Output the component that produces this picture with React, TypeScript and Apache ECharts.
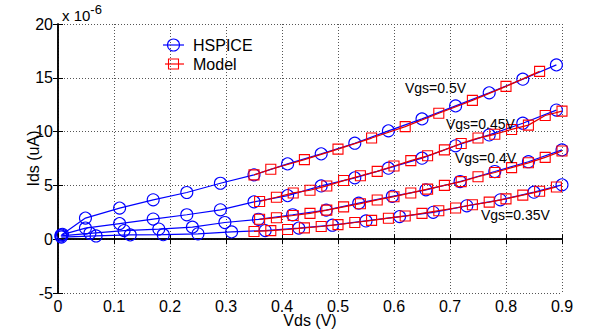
import React, { useEffect, useRef } from "react";
import * as echarts from "echarts";

// HSPICE (blue circles)
const hspice050X = [0.008, 0.049, 0.11, 0.17, 0.23, 0.29, 0.35, 0.41, 0.47, 0.53, 0.59, 0.65, 0.71, 0.77, 0.83, 0.89];
const hspice050Y = [0.45, 1.96, 2.89, 3.66, 4.34, 5.2, 5.98, 7.0, 7.93, 8.92, 10.07, 11.18, 12.39, 13.6, 14.87, 16.2];
const hspice045X = [0.006, 0.049, 0.11, 0.17, 0.23, 0.29, 0.35, 0.41, 0.47, 0.53, 0.59, 0.65, 0.71, 0.77, 0.83, 0.89];
const hspice045Y = [0.4, 1.03, 1.45, 1.87, 2.27, 2.73, 3.47, 4.05, 4.95, 5.7, 6.6, 7.53, 8.68, 9.69, 10.78, 12.0];
const hspice040X = [0.005, 0.057, 0.118, 0.18, 0.24, 0.298, 0.358, 0.419, 0.479, 0.537, 0.597, 0.657, 0.718, 0.78, 0.84, 0.9];
const hspice040Y = [0.3, 0.55, 0.8, 0.94, 1.12, 1.55, 1.85, 2.27, 2.7, 3.35, 3.98, 4.59, 5.36, 6.29, 7.2, 8.3];
const hspice035X = [0.006, 0.068, 0.129, 0.188, 0.25, 0.31, 0.37, 0.43, 0.49, 0.55, 0.61, 0.67, 0.73, 0.79, 0.85, 0.9];
const hspice035Y = [0.2, 0.3, 0.4, 0.42, 0.5, 0.68, 0.8, 1.03, 1.3, 1.7, 2.1, 2.5, 3.1, 3.66, 4.37, 5.05];

// Model (red squares)
const model050X = [0.35, 0.38, 0.44, 0.5, 0.56, 0.62, 0.68, 0.74, 0.8, 0.86];
const model050Y = [5.98, 6.5, 7.4, 8.37, 9.4, 10.46, 11.7, 12.9, 14.2, 15.6];
const model045X = [0.36, 0.39, 0.42, 0.45, 0.48, 0.51, 0.54, 0.57, 0.6, 0.63, 0.66, 0.69, 0.72, 0.75, 0.78, 0.81, 0.84, 0.87, 0.9];
const model045Y = [3.5, 3.9, 4.3, 4.55, 4.95, 5.45, 5.9, 6.3, 6.8, 7.3, 7.75, 8.3, 8.9, 9.4, 9.75, 10.2, 10.6, 11.5, 11.9];
const model040X = [0.36, 0.39, 0.42, 0.45, 0.48, 0.51, 0.54, 0.57, 0.6, 0.63, 0.66, 0.69, 0.72, 0.75, 0.78, 0.81, 0.84, 0.87, 0.9];
const model040Y = [1.85, 2.0, 2.2, 2.4, 2.7, 3.0, 3.3, 3.65, 3.95, 4.3, 4.65, 5.0, 5.35, 5.8, 6.2, 6.65, 7.1, 7.6, 8.2];
const model035X = [0.35, 0.38, 0.41, 0.44, 0.47, 0.5, 0.53, 0.56, 0.59, 0.62, 0.65, 0.68, 0.71, 0.74, 0.77, 0.8, 0.83, 0.86, 0.89];
const model035Y = [0.72, 0.8, 0.9, 1.05, 1.18, 1.35, 1.55, 1.75, 1.95, 2.15, 2.4, 2.65, 2.9, 3.2, 3.45, 3.75, 4.1, 4.45, 4.85];

const vgsLabels = ["Vgs=0.5V", "Vgs=0.45V", "Vgs=0.4V", "Vgs=0.35V"];
const legendNames = ["HSPICE", "Model"];

const FONT = "'Liberation Sans', Arial, sans-serif";
const BLUE = "#0000ff";
const RED = "#ff0000";

const zip = (xs: number[], ys: number[]) => xs.map((x, i) => [x, ys[i]]);

export default function App() {
  const ref = useRef<HTMLDivElement>(null);
  useEffect(() => {
    if (!ref.current) return;
    const chart = echarts.init(ref.current, null, { renderer: "svg" });

    const hs = [
      zip(hspice050X, hspice050Y),
      zip(hspice045X, hspice045Y),
      zip(hspice040X, hspice040Y),
      zip(hspice035X, hspice035Y),
    ];
    const md = [
      zip(model050X, model050Y),
      zip(model045X, model045Y),
      zip(model040X, model040Y),
      zip(model035X, model035Y),
    ];

    const hsSeries = hs.map((d) => ({
      type: "line",
      name: legendNames[0],
      data: d,
      symbol: "circle",
      symbolSize: 12,
      clip: false,
      lineStyle: { color: BLUE, width: 1.2 },
      itemStyle: { color: "rgba(0,0,0,0)", borderColor: BLUE, borderWidth: 1.1 },
      z: 2,
    }));
    const mdSeries = md.map((d) => ({
      type: "line",
      name: legendNames[1],
      data: d,
      symbol: "rect",
      symbolSize: 10,
      clip: false,
      lineStyle: { color: "#e00000", width: 1.2 },
      itemStyle: { color: "rgba(0,0,0,0)", borderColor: RED, borderWidth: 1.1 },
      z: 3,
    }));

    const axisLine = { show: true, lineStyle: { color: "#000", width: 1.5 } };
    const tick = { show: true, inside: true, length: 5, lineStyle: { color: "#000", width: 1 } };
    const split = { show: true, lineStyle: { color: "#555", type: [1, 2], width: 1 } };

    chart.setOption({
      animation: false,
      backgroundColor: "#fff",
      grid: { left: 58, right: 32, top: 24, bottom: 42 },
      xAxis: [
        {
          type: "value",
          min: 0,
          max: 0.9,
          interval: 0.1,
          position: "bottom",
          axisLine,
          axisTick: tick,
          splitLine: split,
          axisLabel: { color: "#000", fontSize: 16, fontFamily: FONT, margin: 5, formatter: (v: number) => (v === 0 ? "0" : String(Math.round(v * 10) / 10)) },
          name: "Vds (V)",
          nameLocation: "middle",
          nameGap: 19,
          nameMoveOverlap: false,
          nameTextStyle: { color: "#000", fontSize: 16, fontFamily: FONT },
        },
        {
          type: "value",
          min: 0,
          max: 0.9,
          interval: 0.1,
          position: "top",
          axisLine,
          axisTick: tick,
          splitLine: { show: false },
          axisLabel: { show: false },
        },
      ],
      yAxis: [
        {
          type: "value",
          min: -5,
          max: 20,
          interval: 5,
          position: "left",
          axisLine,
          axisTick: tick,
          splitLine: split,
          axisLabel: { color: "#000", fontSize: 16, fontFamily: FONT, margin: 5 },
          name: "Ids (uA)",
          nameLocation: "middle",
          nameGap: 17,
          nameMoveOverlap: false,
          nameTextStyle: { color: "#000", fontSize: 16, fontFamily: FONT },
        },
        {
          type: "value",
          min: -5,
          max: 20,
          interval: 5,
          position: "right",
          axisLine,
          axisTick: tick,
          splitLine: { show: false },
          axisLabel: { show: false },
        },
      ],
      series: [...hsSeries, ...mdSeries],
      graphic: [
        {
          type: "text",
          left: 62,
          top: 3,
          style: {
            text: "x 10{sup|-6}",
            fontSize: 15,
            fontFamily: FONT,
            fill: "#000",
            rich: { sup: { fontSize: 13, fontFamily: FONT, fill: "#000", verticalAlign: "top", padding: [0, 0, 12, 0] } },
          },
        },
        // legend
        { type: "line", shape: { x1: 163, y1: 45, x2: 184, y2: 45 }, style: { stroke: BLUE, lineWidth: 1.2 } },
        { type: "circle", shape: { cx: 173.5, cy: 45, r: 6 }, style: { stroke: BLUE, fill: "none", lineWidth: 1.1 } },
        { type: "text", x: 193, y: 45, style: { text: legendNames[0], fontSize: 16, fontFamily: FONT, fill: "#000", verticalAlign: "middle" } },
        { type: "line", shape: { x1: 165, y1: 64, x2: 184, y2: 64 }, style: { stroke: RED, lineWidth: 1.2 } },
        { type: "rect", shape: { x: 168.5, y: 59, width: 10, height: 10 }, style: { stroke: RED, fill: "none", lineWidth: 1.1 } },
        { type: "text", x: 193, y: 64, style: { text: legendNames[1], fontSize: 16, fontFamily: FONT, fill: "#000", verticalAlign: "middle" } },
        // annotations
        { type: "text", x: 405, y: 88, z: 10, style: { text: vgsLabels[0], fontSize: 14, fontFamily: FONT, fill: "#000", verticalAlign: "middle" } },
        { type: "text", x: 446, y: 124, z: 10, style: { text: vgsLabels[1], fontSize: 14, fontFamily: FONT, fill: "#000", verticalAlign: "middle" } },
        { type: "text", x: 455, y: 158, z: 10, style: { text: vgsLabels[2], fontSize: 14, fontFamily: FONT, fill: "#000", verticalAlign: "middle" } },
        { type: "text", x: 481, y: 215, z: 10, style: { text: vgsLabels[3], fontSize: 14, fontFamily: FONT, fill: "#000", verticalAlign: "middle" } },
      ],
    });
    return () => chart.dispose();
  }, []);
  return <div ref={ref} style={{ position: "fixed", left: 0, top: 0, width: 594, height: 335, background: "#fff" }} />;
}
